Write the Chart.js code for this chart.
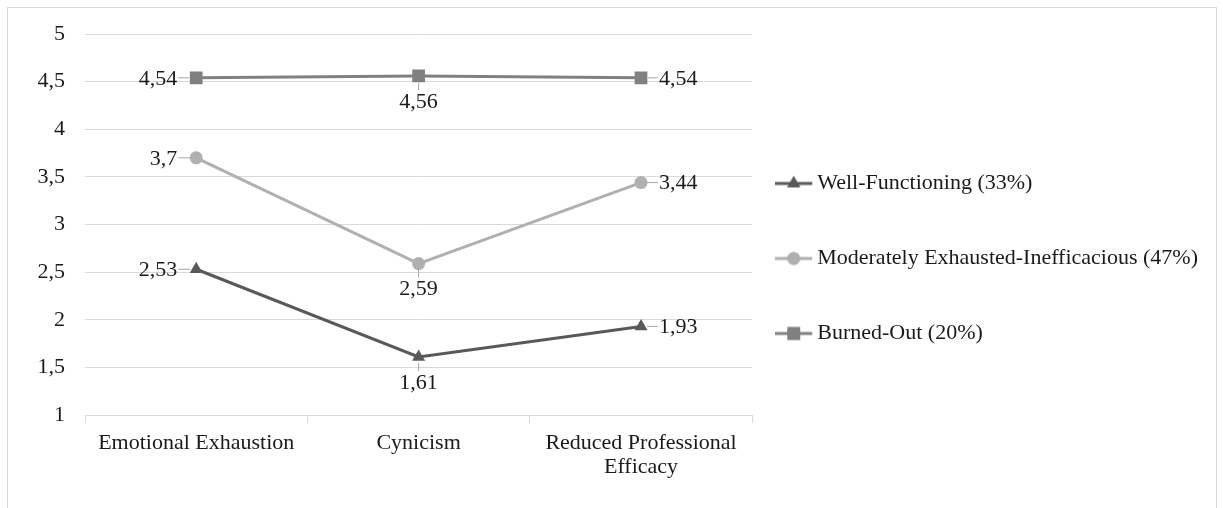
<!DOCTYPE html>
<html lang="en">
<head>
    <meta charset="UTF-8">
    <title>Burnout profiles</title>
    <style>
        body {
            margin: 0;
            padding: 0;
            background: #ffffff;
            overflow: hidden;
        }
        .frame {
            position: absolute;
            left: 7px;
            top: 7px;
            width: 1208px;
            height: 560px;
            border: 1px solid #d9d9d9;
        }
        .chart-container {
            position: absolute;
            left: 0;
            top: 0;
            width: 1223px;
            height: 508px;
        }
    </style>
    <script src="https://cdn.jsdelivr.net/npm/chart.js"></script>
</head>
<body>
    <div class="frame"></div>
    <div class="chart-container">
        <canvas id="perfisChart"></canvas>
    </div>

    <script>
        const categorias = ['Emotional Exhaustion', 'Cynicism', ['Reduced Professional', 'Efficacy']];
        const wellFunctioning = [2.53, 1.61, 1.93];
        const moderately = [3.7, 2.59, 3.44];
        const burnedOut = [4.54, 4.56, 4.54];
        const nomesSeries = ['Well-Functioning (33%)', 'Moderately Exhausted-Inefficacious (47%)', 'Burned-Out (20%)'];
        const yTicks = [1, 1.5, 2, 2.5, 3, 3.5, 4, 4.5, 5];

        const fonte = "'Liberation Serif', 'Times New Roman', serif";
        const corTexto = '#1a1a1a';
        const cores = ['#595959', '#b0b0b0', '#808080'];
        const estilos = ['triangle', 'circle', 'rect'];
        const raios = [7.5, 6.5, 9];

        function virgula(v) {
            return String(v).replace('.', ',');
        }

        // marcador da legenda: linha com o simbolo no meio, so na metade esquerda do canvas
        function marcadorLegenda(cor, estilo, raio) {
            const c = document.createElement('canvas');
            c.width = 61;
            c.height = 20;
            const g = c.getContext('2d');
            g.strokeStyle = cor;
            g.lineWidth = 3;
            g.beginPath();
            g.moveTo(0, 10);
            g.lineTo(37, 10);
            g.stroke();
            g.fillStyle = cor;
            Chart.helpers.drawPoint(g, { pointStyle: estilo, radius: raio, rotation: 0, borderWidth: 0 }, 18.5, 10);
            g.fill();
            return c;
        }

        const rotulosPlugin = {
            id: 'rotulos',
            afterDatasetsDraw(chart) {
                const ctx = chart.ctx;
                ctx.save();
                ctx.font = '22px ' + fonte;
                ctx.fillStyle = corTexto;
                ctx.strokeStyle = '#a6a6a6';
                ctx.lineWidth = 1;
                ctx.textBaseline = 'middle';
                chart.data.datasets.forEach((ds, d) => {
                    const meta = chart.getDatasetMeta(d);
                    meta.data.forEach((pt, i) => {
                        const txt = virgula(ds.data[i]);
                        const r = ds.pointRadius * 0.8;
                        ctx.beginPath();
                        if (i === 0) {
                            ctx.textAlign = 'right';
                            ctx.moveTo(pt.x - 18, pt.y);
                            ctx.lineTo(pt.x - r, pt.y);
                            ctx.stroke();
                            ctx.fillText(txt, pt.x - 19, pt.y + 1);
                        } else if (i === 1) {
                            ctx.textAlign = 'center';
                            ctx.moveTo(pt.x, pt.y + r);
                            ctx.lineTo(pt.x, pt.y + 14);
                            ctx.stroke();
                            ctx.fillText(txt, pt.x, pt.y + 26);
                        } else {
                            ctx.textAlign = 'left';
                            ctx.moveTo(pt.x + r, pt.y);
                            ctx.lineTo(pt.x + 17, pt.y);
                            ctx.stroke();
                            ctx.fillText(txt, pt.x + 18, pt.y + 1);
                        }
                    });
                });
                ctx.restore();
            }
        };

        const series = [wellFunctioning, moderately, burnedOut];
        const marcadores = series.map((s, i) => marcadorLegenda(cores[i], estilos[i], raios[i]));

        new Chart(document.getElementById('perfisChart'), {
            type: 'line',
            data: {
                labels: categorias,
                datasets: series.map((s, i) => ({
                    label: nomesSeries[i],
                    data: s,
                    borderColor: cores[i],
                    backgroundColor: cores[i],
                    borderWidth: 3,
                    pointStyle: estilos[i],
                    pointRadius: raios[i],
                    pointBorderWidth: 0,
                    pointBackgroundColor: cores[i],
                    tension: 0
                }))
            },
            options: {
                responsive: true,
                maintainAspectRatio: false,
                animation: false,
                layout: {
                    padding: { left: 0, right: 15, top: 34, bottom: 25 }
                },
                plugins: {
                    tooltip: { enabled: false },
                    legend: {
                        position: 'right',
                        maxWidth: 520,
                        labels: {
                            usePointStyle: true,
                            pointStyleWidth: 1,
                            padding: 53,
                            color: corTexto,
                            font: { family: fonte, size: 22 },
                            generateLabels(chart) {
                                return chart.data.datasets.map((ds, i) => ({
                                    text: ds.label,
                                    pointStyle: marcadores[i],
                                    fillStyle: cores[i],
                                    strokeStyle: cores[i],
                                    lineWidth: 0,
                                    hidden: false,
                                    datasetIndex: i,
                                    fontColor: corTexto
                                }));
                            }
                        }
                    }
                },
                scales: {
                    x: {
                        offset: true,
                        afterFit(scale) {
                            scale.height = 68;
                        },
                        grid: {
                            offset: true,
                            drawOnChartArea: false,
                            drawTicks: true,
                            tickLength: 8,
                            color: '#d9d9d9'
                        },
                        border: { color: '#d9d9d9', width: 1 },
                        ticks: {
                            color: corTexto,
                            padding: 8,
                            maxRotation: 0,
                            font: { family: fonte, size: 22, lineHeight: 1.1 }
                        }
                    },
                    y: {
                        min: yTicks[0],
                        max: yTicks[yTicks.length - 1],
                        afterFit(scale) {
                            scale.width = 85;
                        },
                        afterBuildTicks(scale) {
                            scale.ticks = yTicks.map(v => ({ value: v }));
                        },
                        grid: {
                            color: '#d9d9d9',
                            drawTicks: false
                        },
                        border: { display: false },
                        ticks: {
                            color: corTexto,
                            padding: 20,
                            font: { family: fonte, size: 22 },
                            callback: v => virgula(v)
                        }
                    }
                }
            },
            plugins: [rotulosPlugin]
        });
    </script>
</body>
</html>
